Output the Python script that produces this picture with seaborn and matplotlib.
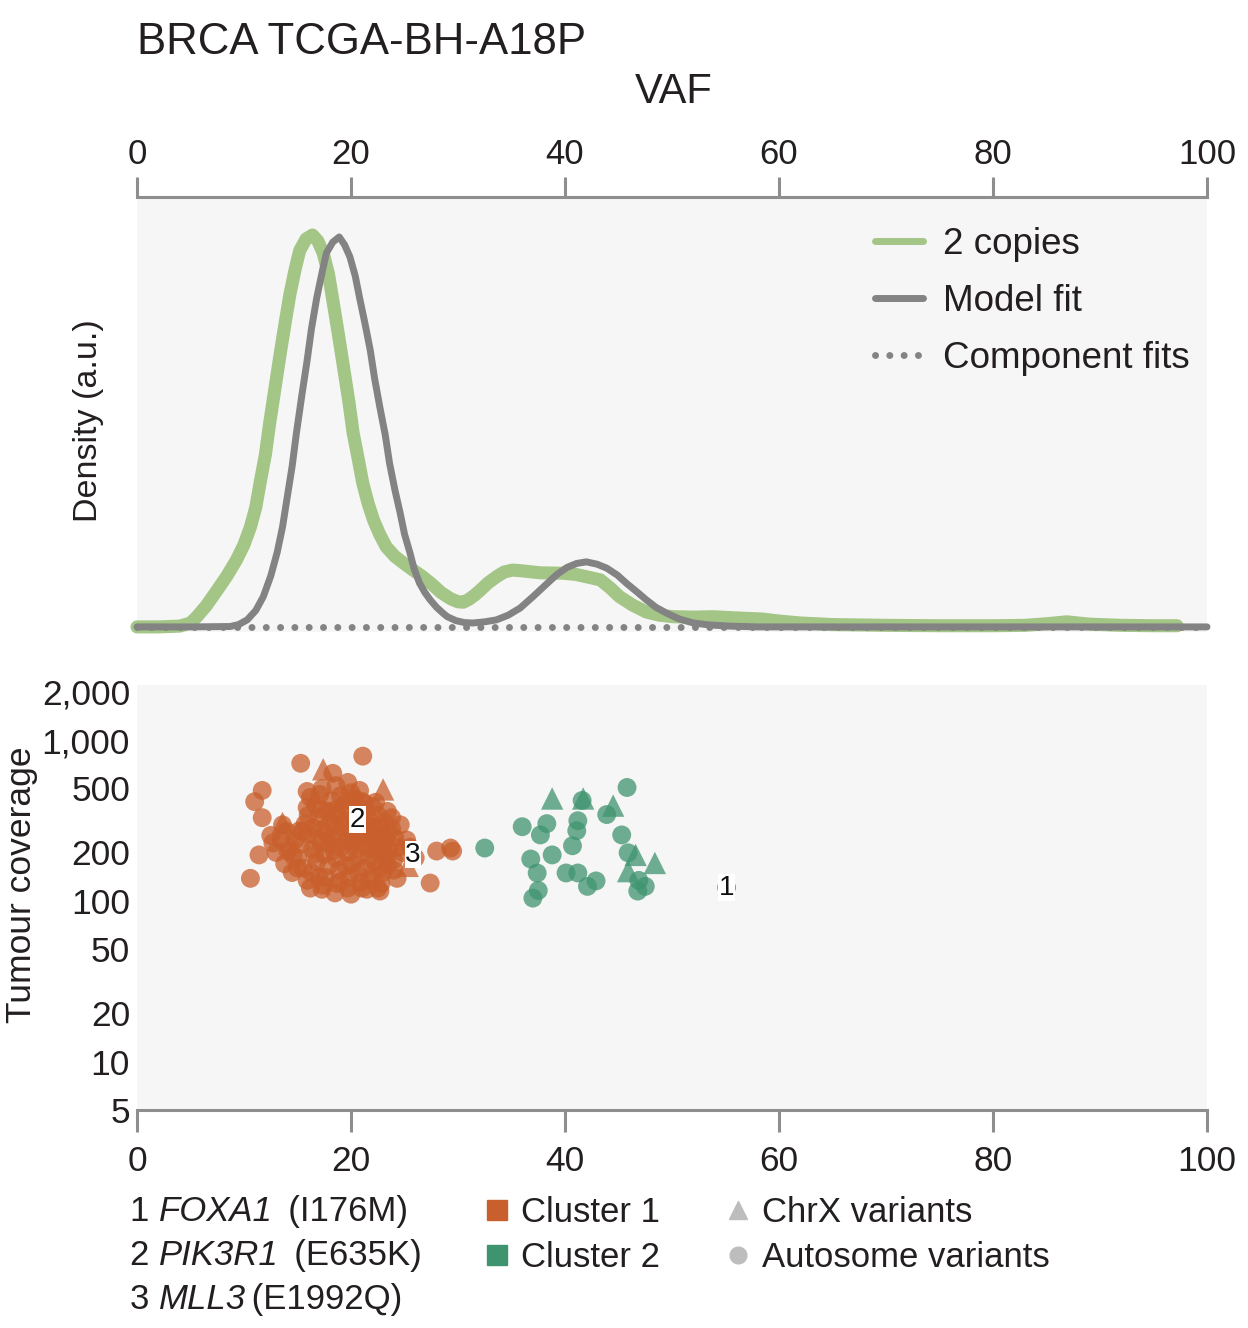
import numpy as np
import pandas as pd
import matplotlib
matplotlib.use("Agg")
import matplotlib.pyplot as plt
import seaborn as sns
from matplotlib.lines import Line2D
from matplotlib.ticker import NullLocator, FixedLocator

# ---------------- data ----------------
green_vaf = [0, 2, 4, 5, 5.6, 6.5, 7.5, 8.4, 9.3, 10.0, 10.6, 11.1, 11.5, 12.0, 12.4, 12.9,
             13.4, 13.9, 14.3, 14.8, 15.2, 15.8, 16.4, 16.9, 17.4, 17.9, 18.3, 18.8, 19.3,
             19.8, 20.2, 20.7, 21.1, 21.6, 22.1, 22.7, 23.3, 24.1, 24.9, 25.8, 26.7, 27.6,
             28.4, 29.3, 30.0, 30.5, 31.0, 31.6, 32.1, 32.8, 33.6, 34.3, 35.1, 36.0, 37.7,
             39.8, 41.0, 42.0, 43.3, 44.2, 45.1, 46.3, 47.6, 48.8, 50.1, 52, 53.8, 56, 58.5,
             60, 62, 65, 70, 75, 80, 83, 85, 86.9, 89, 92, 95, 97.2]
green_dens = [0, 0, 0.002, 0.01, 0.026, 0.055, 0.094, 0.13, 0.171, 0.21, 0.255, 0.305, 0.367,
              0.44, 0.52, 0.61, 0.70, 0.785, 0.85, 0.915, 0.96, 0.99, 1.0, 0.985, 0.954, 0.9,
              0.834, 0.75, 0.663, 0.575, 0.495, 0.425, 0.367, 0.315, 0.273, 0.235, 0.204,
              0.18, 0.163, 0.145, 0.128, 0.108, 0.088, 0.072, 0.064, 0.063, 0.07, 0.082,
              0.094, 0.112, 0.128, 0.14, 0.145, 0.143, 0.138, 0.137, 0.134, 0.128, 0.12, 0.1,
              0.077, 0.056, 0.038, 0.03, 0.026, 0.025, 0.026, 0.023, 0.02, 0.015, 0.01, 0.006,
              0.004, 0.003, 0.003, 0.004, 0.008, 0.013, 0.007, 0.004, 0.003, 0.003]

model_vaf = [0, 5, 8.7, 9.5, 10.3, 11.1, 11.8, 12.5, 13.1, 13.6, 14.0, 14.5, 14.9, 15.4, 15.9,
             16.3, 16.8, 17.3, 17.7, 18.3, 18.9, 19.4, 19.9, 20.4, 20.8, 21.3, 21.8, 22.2,
             22.7, 23.2, 23.6, 24.1, 24.6, 25.0, 25.5, 25.9, 26.4, 26.9, 27.4, 28.0, 28.6,
             29.0, 29.8, 30.6, 31.4, 32.5, 33.6, 34.7, 35.8, 37.0, 38.3, 39.3, 40.2, 41.1,
             42.0, 43.0, 43.9, 44.9, 45.8, 46.7, 47.6, 48.5, 49.5, 50.7, 52.0, 53.5, 55.4,
             58, 100]
model_dens = [0, 0, 0.001, 0.006, 0.018, 0.042, 0.077, 0.13, 0.19, 0.255, 0.324, 0.41, 0.495,
              0.59, 0.68, 0.76, 0.84, 0.905, 0.954, 0.982, 0.995, 0.975, 0.944, 0.895, 0.84,
              0.775, 0.706, 0.635, 0.56, 0.49, 0.418, 0.35, 0.29, 0.237, 0.19, 0.148, 0.112,
              0.088, 0.069, 0.05, 0.035, 0.026, 0.016, 0.011, 0.01, 0.013, 0.018, 0.03, 0.048,
              0.077, 0.11, 0.135, 0.152, 0.162, 0.166, 0.16, 0.15, 0.132, 0.11, 0.09, 0.069,
              0.05, 0.035, 0.02, 0.01, 0.005, 0.002, 0, 0]

component_vaf = [0, 100]
component_dens = [0, 0]

# Cluster 1 (orange) autosome variants
c1_auto_vaf = [15.3, 21.1, 18.3, 11.7, 11.0, 11.7, 13.6, 12.7, 11.4, 10.6, 15.9, 17.1, 19.7,
               20.8, 21.1, 15.9, 23.8, 24.6, 25.2, 24.1, 23.0, 23.4, 28.0, 29.3, 29.5, 27.4,
               24.3, 22.7, 21.0, 19.7, 17.4, 15.9, 15.0, 14.1, 15.2,
               16.3, 16.8, 16.4, 16.9, 16.5, 17.0, 16.7,
               17.6, 17.9, 17.5, 18.0, 17.7, 18.1, 17.8, 18.2,
               18.7, 18.9, 18.6, 19.1, 18.8, 19.2, 18.7, 19.3, 19.0,
               19.8, 20.1, 19.7, 20.2, 19.9, 20.3, 19.8, 20.4,
               20.9, 21.2, 20.8, 21.3, 21.0, 21.4, 20.9, 21.3,
               22.0, 22.3, 21.9, 22.4, 22.1, 22.5, 22.0,
               23.0, 23.3, 22.9, 23.5, 23.1, 23.4,
               15.5, 15.3, 15.7, 16.0, 14.8, 15.0,
               24.0, 24.4, 23.8, 24.8, 25.5, 26.0,
               17.3, 18.5, 20.0, 21.5, 22.8, 16.2, 14.5, 13.8, 13.0, 12.5, 14.0, 14.2,
               16.6, 17.2, 17.4, 17.2, 18.4, 18.2, 18.5, 18.4, 19.5, 19.6, 19.4, 19.6,
               20.6, 20.5, 20.6, 20.7, 20.6, 21.7, 21.8, 21.7, 21.6, 22.7, 22.6, 22.8,
               22.3, 23.6, 23.2, 16.0, 15.5, 16.2, 17.3, 18.6, 20.0, 17.0, 19.0, 21.8,
               22.5, 24.0, 14.6, 13.5]
c1_auto_cov = [717, 794, 621, 486, 414, 329, 297, 229, 193, 138, 479, 459, 545,
               486, 414, 380, 329, 297, 239, 246, 204, 167, 204, 213, 204, 129,
               138, 115, 120, 120, 125, 134, 185, 204, 273,
               150, 175, 210, 245, 285, 330, 395,
               140, 165, 195, 225, 265, 310, 360, 420,
               128, 155, 185, 215, 250, 290, 340, 390, 450,
               140, 170, 200, 235, 270, 320, 370, 430,
               130, 160, 190, 220, 260, 300, 350, 400,
               145, 175, 210, 250, 290, 340, 385,
               150, 185, 225, 265, 310, 360,
               160, 225, 300, 340, 240, 160,
               180, 215, 280, 200, 215, 185,
               118, 112, 110, 118, 128, 120, 150, 170, 200, 255, 270, 215,
               195, 230, 280, 370, 205, 245, 300, 365, 165, 235, 310, 420,
               150, 210, 250, 290, 380, 185, 240, 270, 330, 160, 200, 290,
               410, 210, 245, 260, 270, 440, 500, 520, 470, 140, 132, 135,
               120, 155, 190, 240]

# Cluster 1 ChrX variants
c1_x_vaf = [17.4, 23.0, 13.6, 25.3]
c1_x_cov = [658, 493, 305, 165]

# Cluster 2 (green) autosome variants
c2_auto_vaf = [45.8, 43.9, 36.0, 38.3, 37.7, 41.2, 41.1, 40.7, 45.3, 32.5, 38.8, 36.8, 45.9,
               37.4, 40.1, 41.2, 42.9, 42.1, 46.9, 47.5, 46.8, 37.5, 37.0, 41.6, 55.1]
c2_auto_cov = [507, 344, 289, 302, 257, 315, 273, 220, 257, 213, 193, 182, 199,
               149, 149, 149, 133, 123, 134, 123, 115, 116, 104, 421, 121]

# Cluster 2 ChrX variants
c2_x_vaf = [38.8, 41.7, 44.5, 46.6, 48.4, 45.9]
c2_x_cov = [433, 433, 391, 193, 172, 153]

label_text = ["1", "2", "3"]
label_vaf = [55.1, 20.6, 25.8]
label_cov = [121, 320, 193]

gene_num = ["1 ", "2 ", "3 "]
gene_name = ["FOXA1", "PIK3R1", "MLL3"]
gene_mut = ["  (I176M)", "  (E635K)", " (E1992Q)"]

top_ticks = [0, 20, 40, 60, 80, 100]
cov_ticks = [5, 10, 20, 50, 100, 200, 500, 1000, 2000]
cov_tick_labels = ["5", "10", "20", "50", "100", "200", "500", "1,000", "2,000"]

# ---------------- style ----------------
sns.set_theme(style="white")
plt.rcParams["font.family"] = ["Liberation Sans", "DejaVu Sans"]
plt.rcParams["text.color"] = "#231f20"
plt.rcParams["xtick.color"] = "#231f20"
plt.rcParams["ytick.color"] = "#231f20"

BG = "#f6f6f6"
LGREEN = "#a3c585"
GREY = "#838383"
SPINE = "#8e8e8f"
ORANGE = "#c95f2c"
TEAL = "#3f9470"
LEGGREY = "#bdbdbd"

fig = plt.figure(figsize=(12.48, 13.28), dpi=100)
W, H = 1248, 1328
ax1 = fig.add_axes([137 / W, 1 - 632 / H, 1070 / W, 435 / H])
ax2 = fig.add_axes([137 / W, 1 - 1110 / H, 1070 / W, 425 / H])

# ---------------- top: density ----------------
ax1.set_facecolor(BG)
sns.lineplot(x=green_vaf, y=green_dens, ax=ax1, color=LGREEN, lw=9.4,
             solid_capstyle="round", estimator=None, sort=False, clip_on=False, zorder=2)
sns.lineplot(x=component_vaf, y=component_dens, ax=ax1, color=GREY, lw=5,
             linestyle=(0, (0.01, 2.05)), dash_capstyle="round", estimator=None,
             sort=False, clip_on=False, zorder=3)
sns.lineplot(x=model_vaf, y=model_dens, ax=ax1, color=GREY, lw=5,
             solid_capstyle="round", estimator=None, sort=False, clip_on=False, zorder=4)
ax1.set_xlim(0, 100)
ax1.set_ylim(-0.013, 1.097)
ax1.set_yticks([])
ax1.set_xticks(top_ticks)
ax1.xaxis.tick_top()
ax1.tick_params(axis="x", top=True, bottom=False, labeltop=True, labelbottom=False,
                direction="out", length=14.5, width=2.2, color=SPINE, labelsize=25, pad=4)
for side in ["left", "right", "bottom"]:
    ax1.spines[side].set_visible(False)
ax1.spines["top"].set_color(SPINE)
ax1.spines["top"].set_linewidth(2.2)
ax1.set_xlabel("")
ax1.set_ylabel("")

leg_handles = [
    Line2D([], [], color=LGREEN, lw=5, solid_capstyle="round"),
    Line2D([], [], color=GREY, lw=5, solid_capstyle="round"),
    Line2D([], [], color=GREY, lw=5, linestyle=(0, (0.01, 2.05)), dash_capstyle="round"),
]
ax1.legend(leg_handles, ["2 copies", "Model fit", "Component fits"], loc="upper left",
           bbox_to_anchor=(0.69, 0.931), frameon=False, fontsize=26.5, handlelength=1.3,
           handletextpad=0.55, labelspacing=0.6, borderpad=0, borderaxespad=0)

# ---------------- bottom: scatter ----------------
ax2.set_facecolor(BG)
df_auto = pd.DataFrame({
    "vaf": c1_auto_vaf + c2_auto_vaf,
    "cov": c1_auto_cov + c2_auto_cov,
    "cluster": ["Cluster 1"] * len(c1_auto_vaf) + ["Cluster 2"] * len(c2_auto_vaf),
})
df_x = pd.DataFrame({
    "vaf": c1_x_vaf + c2_x_vaf,
    "cov": c1_x_cov + c2_x_cov,
    "cluster": ["Cluster 1"] * len(c1_x_vaf) + ["Cluster 2"] * len(c2_x_vaf),
})
pal = {"Cluster 1": ORANGE, "Cluster 2": TEAL}
sns.scatterplot(data=df_auto, x="vaf", y="cov", hue="cluster", palette=pal, marker="o",
                s=185, alpha=0.75, edgecolor="none", linewidth=0, legend=False, ax=ax2)
sns.scatterplot(data=df_x, x="vaf", y="cov", hue="cluster", palette=pal, marker="^",
                s=260, alpha=0.75, edgecolor="none", linewidth=0, legend=False, ax=ax2)
ax2.set_yscale("log")
ax2.set_xlim(0, 100)
ax2.set_ylim(5, 2200)
ax2.yaxis.set_major_locator(FixedLocator(cov_ticks))
ax2.set_yticklabels(cov_tick_labels)
ax2.yaxis.set_minor_locator(NullLocator())
ax2.set_xticks(top_ticks)
ax2.tick_params(axis="y", left=True, length=0, pad=5, labelsize=25.5)
ax2.tick_params(axis="x", bottom=True, direction="out", length=16, width=2.2,
                color=SPINE, labelsize=25.5, pad=9)
for side in ["left", "right", "top"]:
    ax2.spines[side].set_visible(False)
ax2.spines["bottom"].set_color(SPINE)
ax2.spines["bottom"].set_linewidth(2.2)
ax2.set_xlabel("")
ax2.set_ylabel("")

for t, xv, yv in zip(label_text, label_vaf, label_cov):
    ax2.text(xv, yv, t, ha="center", va="center", fontsize=20, color="#111111", zorder=10,
             bbox=dict(facecolor="white", edgecolor="none", pad=0.4))

# ---------------- figure texts ----------------
fig.text(137 / W, 1 - 42 / H, "BRCA TCGA-BH-A18P", ha="left", va="center", fontsize=31.5)
fig.text(674 / W, 1 - 92 / H, "VAF", ha="center", va="center", fontsize=30)
fig.text(88 / W, 1 - 421 / H, "Density (a.u.)", ha="center", va="center", rotation=90,
         fontsize=24.5)
fig.text(22 / W, 1 - 885 / H, "Tumour coverage", ha="center", va="center", rotation=90,
         fontsize=25.5)

for i in range(len(gene_num)):
    t0 = fig.text(130 / W, 1 - (1221 + 44 * i) / H, gene_num[i], ha="left",
                  va="baseline", fontsize=25)
    t1 = ax2.annotate(gene_name[i], xy=(1, 0), xycoords=t0, ha="left", va="bottom",
                      fontsize=25, fontstyle="italic", annotation_clip=False)
    ax2.annotate(gene_mut[i], xy=(1, 0), xycoords=t1, xytext=(-3, 0),
                 textcoords="offset points", ha="left", va="bottom",
                 fontsize=25, annotation_clip=False)

cl_handles = [Line2D([], [], marker="s", ls="", color=ORANGE, ms=14),
              Line2D([], [], marker="s", ls="", color=TEAL, ms=14)]
fig.legend(cl_handles, ["Cluster 1", "Cluster 2"], loc="upper left",
           bbox_to_anchor=(483 / W, 1 - 1196 / H), frameon=False, fontsize=25,
           handlelength=0.8, handletextpad=0.3, labelspacing=0.35, borderpad=0,
           borderaxespad=0)
sh_handles = [Line2D([], [], marker="^", ls="", color=LEGGREY, ms=13),
              Line2D([], [], marker="o", ls="", color=LEGGREY, ms=12)]
fig.legend(sh_handles, ["ChrX variants", "Autosome variants"], loc="upper left",
           bbox_to_anchor=(724 / W, 1 - 1196 / H), frameon=False, fontsize=25,
           handlelength=0.8, handletextpad=0.3, labelspacing=0.35, borderpad=0,
           borderaxespad=0)

fig.savefig("out.png", dpi=100)
